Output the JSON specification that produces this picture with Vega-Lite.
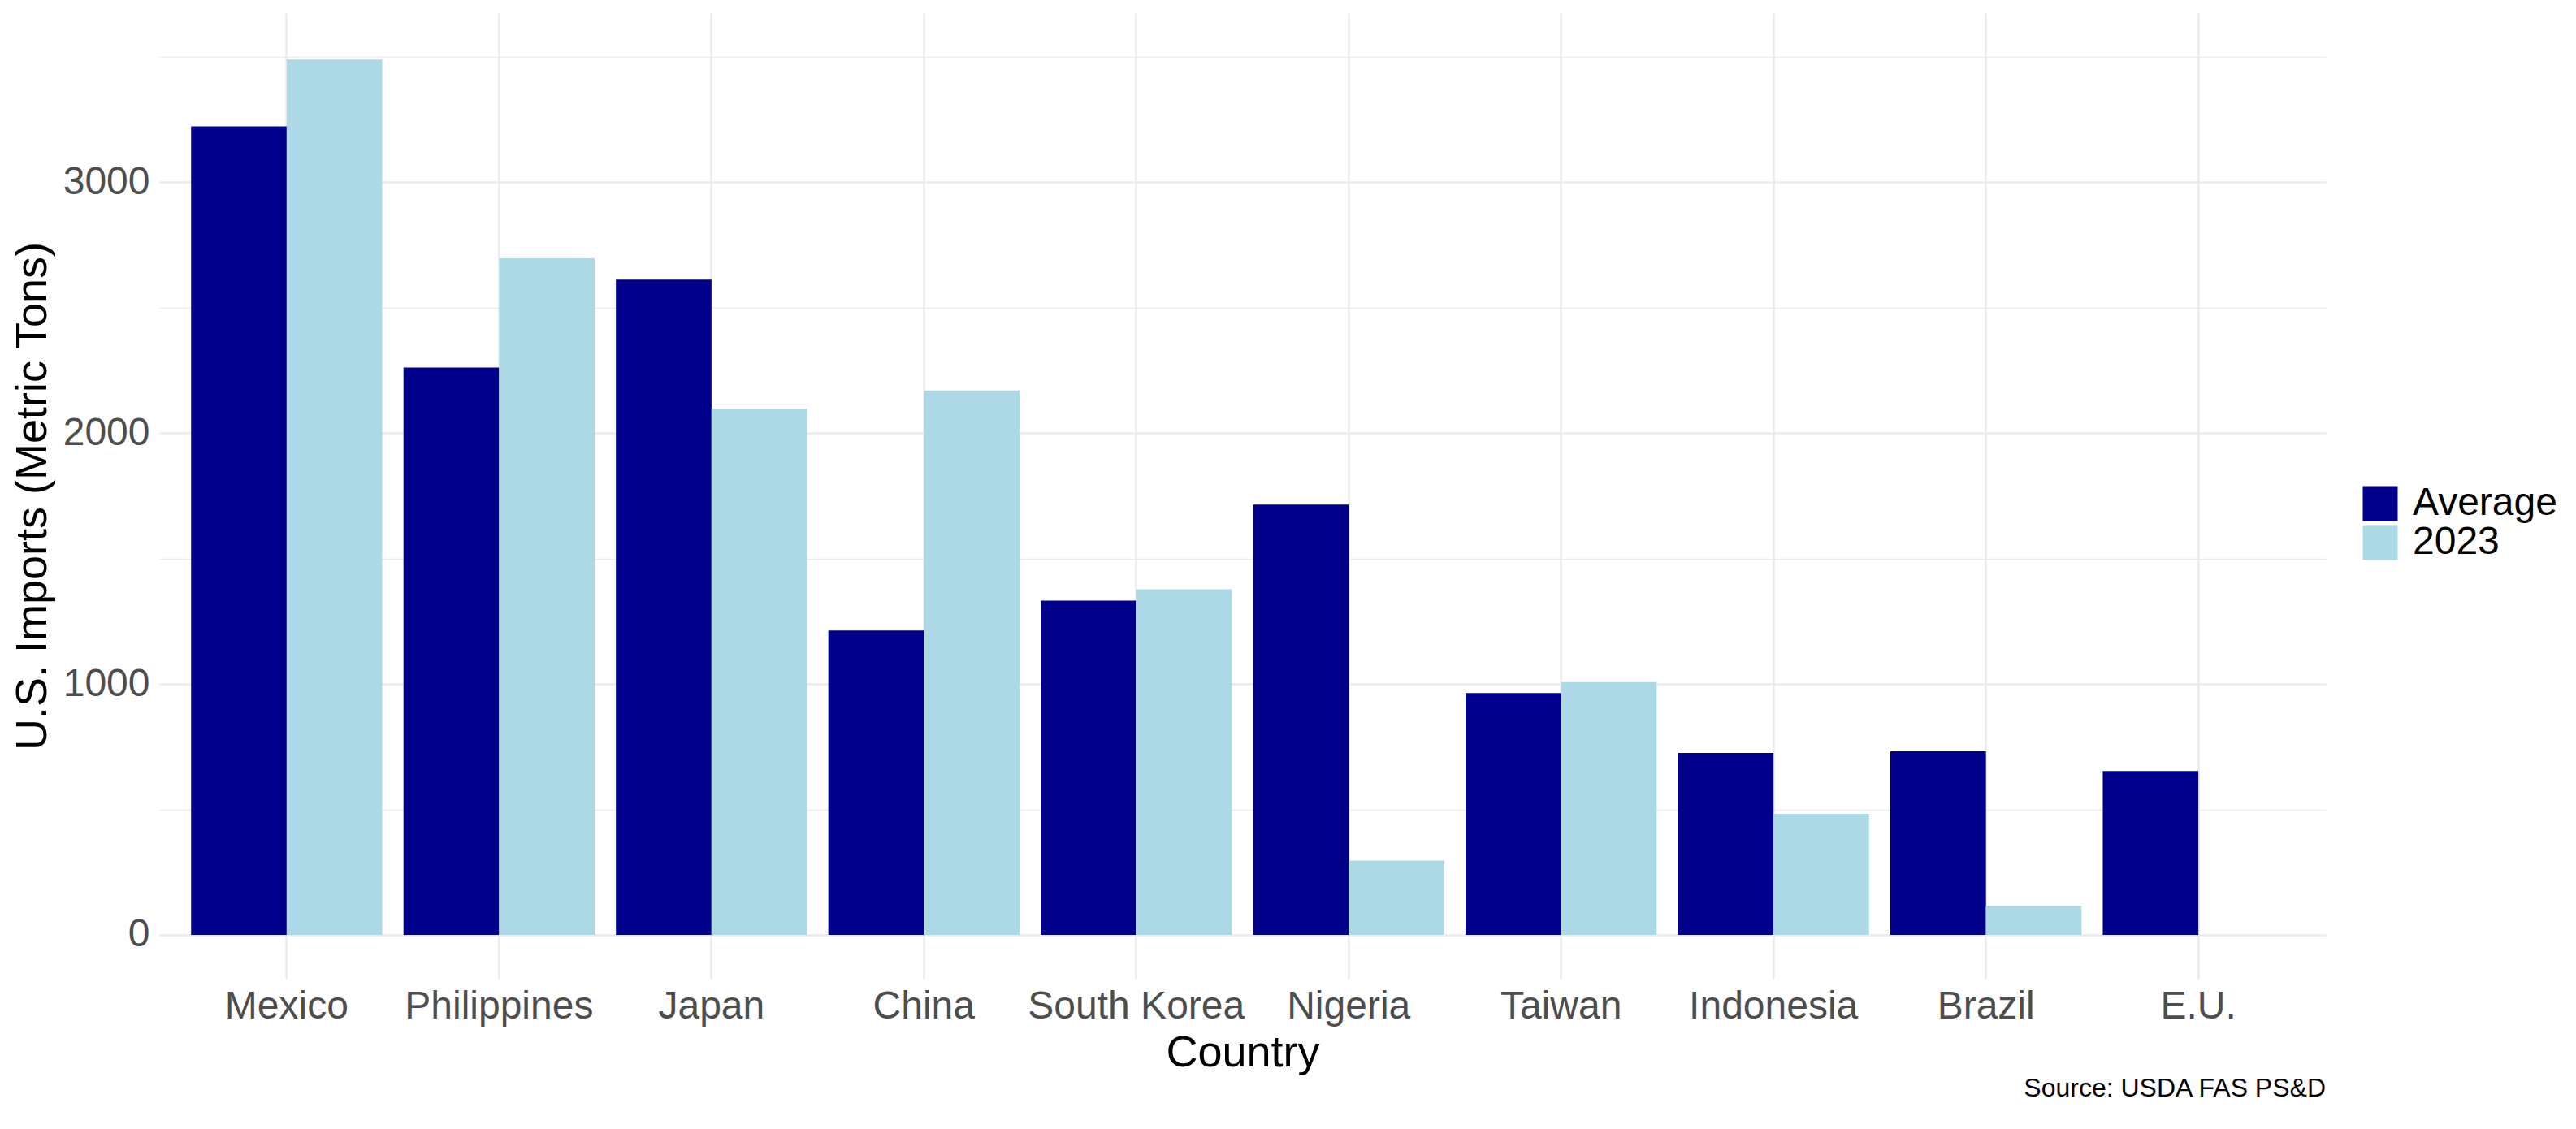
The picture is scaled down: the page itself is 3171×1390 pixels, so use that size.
{
  "$schema": "https://vega.github.io/schema/vega-lite/v6.json",
  "width": 2667,
  "height": 1189,
  "autosize": {"type": "none"},
  "padding": {"left": 196, "top": 16, "right": 308, "bottom": 185},
  "background": "white",
  "title": {
    "text": "Source: USDA FAS PS&D",
    "orient": "bottom",
    "anchor": "end",
    "frame": "group",
    "fontSize": 32,
    "fontWeight": "normal",
    "font": "Liberation Sans",
    "color": "black",
    "offset": 2
  },
  "data": {
    "values": [
      {"country": "Mexico", "series": "Average", "value": 3223},
      {"country": "Mexico", "series": "2023", "value": 3490},
      {"country": "Philippines", "series": "Average", "value": 2262},
      {"country": "Philippines", "series": "2023", "value": 2697},
      {"country": "Japan", "series": "Average", "value": 2612},
      {"country": "Japan", "series": "2023", "value": 2098},
      {"country": "China", "series": "Average", "value": 1213},
      {"country": "China", "series": "2023", "value": 2170},
      {"country": "South Korea", "series": "Average", "value": 1332},
      {"country": "South Korea", "series": "2023", "value": 1378},
      {"country": "Nigeria", "series": "Average", "value": 1715},
      {"country": "Nigeria", "series": "2023", "value": 296},
      {"country": "Taiwan", "series": "Average", "value": 964},
      {"country": "Taiwan", "series": "2023", "value": 1008},
      {"country": "Indonesia", "series": "Average", "value": 725},
      {"country": "Indonesia", "series": "2023", "value": 482},
      {"country": "Brazil", "series": "Average", "value": 732},
      {"country": "Brazil", "series": "2023", "value": 116},
      {"country": "E.U.", "series": "Average", "value": 653}
    ]
  },
  "mark": {"type": "bar"},
  "encoding": {
    "x": {
      "field": "country",
      "type": "nominal",
      "sort": ["Mexico", "Philippines", "Japan", "China", "South Korea", "Nigeria", "Taiwan", "Indonesia", "Brazil", "E.U."],
      "scale": {"paddingInner": 0.1, "paddingOuter": 0.15},
      "title": "Country",
      "axis": {
        "bandPosition": 0.5,
        "labelAngle": 0,
        "labelLimit": 0,
        "labelPadding": 10,
        "titlePadding": 6
      }
    },
    "xOffset": {
      "field": "series",
      "type": "nominal",
      "sort": ["Average", "2023"],
      "scale": {"paddingInner": 0, "paddingOuter": 0}
    },
    "y": {
      "field": "value",
      "type": "quantitative",
      "stack": null,
      "title": "U.S. Imports (Metric Tons)",
      "scale": {"domain": [-175, 3675], "nice": false, "zero": false},
      "axis": {
        "values": [0, 500, 1000, 1500, 2000, 2500, 3000, 3500],
        "labelExpr": "datum.value % 1000 == 0 ? datum.label : ''",
        "format": "d",
        "labelPadding": 12,
        "titlePadding": 10,
        "gridWidth": {"condition": {"test": "datum.value % 1000 == 0", "value": 2.5}, "value": 1.4}
      }
    },
    "y2": {"datum": 0},
    "color": {
      "field": "series",
      "type": "nominal",
      "sort": ["Average", "2023"],
      "scale": {"domain": ["Average", "2023"], "range": ["#00008B", "#ADD8E6"]},
      "legend": {
        "title": null,
        "orient": "none",
        "legendX": 2710,
        "legendY": 580,
        "symbolType": "square",
        "symbolSize": 1849,
        "symbolStrokeWidth": 0,
        "symbolOpacity": 1,
        "rowPadding": 0,
        "labelFontSize": 48,
        "labelLimit": 0,
        "labelColor": "black",
        "labelOffset": 16,
        "labelFont": "Liberation Sans"
      }
    }
  },
  "config": {
    "font": "Liberation Sans",
    "view": {"stroke": null},
    "axis": {
      "grid": true,
      "gridColor": "#EBEBEB",
      "gridWidth": 2.5,
      "domain": false,
      "ticks": false,
      "labelFontSize": 48,
      "labelColor": "#4D4D4D",
      "labelFont": "Liberation Sans",
      "titleFontSize": 54,
      "titleFontWeight": "normal",
      "titleColor": "black",
      "titleFont": "Liberation Sans"
    }
  }
}
